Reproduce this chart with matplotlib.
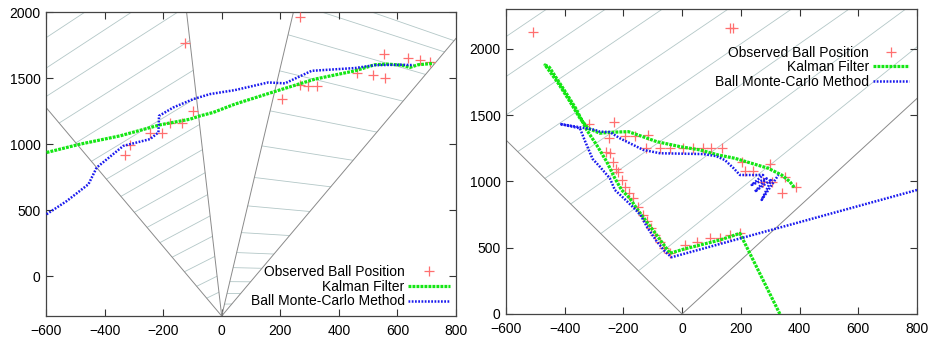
import numpy as np
import matplotlib
matplotlib.use("Agg")
import matplotlib.pyplot as plt
from matplotlib.patches import Polygon
from matplotlib.lines import Line2D

plt.rcParams["font.family"] = ["Liberation Sans", "DejaVu Sans"]
plt.rcParams["font.size"] = 10

# ---------------- left panel (two camera wedges) ----------------
L_OBS_X = [-125, -99, -135, -177, -203, -246, -312, -331, 205, 268, 267, 296,
           327, 461, 517, 559, 555, 636, 678, 712]
L_OBS_Y = [1763, 1252, 1162, 1159, 1082, 1082, 995, 921, 1338, 1960, 1445, 1437,
           1437, 1541, 1520, 1503, 1682, 1650, 1636, 1625]

L_KF_X = [-598, -484, -347, -211, -108, -74, -29, 45, 182, 318, 455, 523, 563,
          615, 643, 671, 723]
L_KF_Y = [937, 1000, 1063, 1146, 1189, 1214, 1240, 1303, 1399, 1492, 1555, 1601,
          1606, 1598, 1581, 1601, 1611]

L_MC_X = [-598, -529, -455, -427, -336, -313, -245, -216, -214, -165, -97, -40,
          45, 159, 216, 307, 455, 523, 615, 655]
L_MC_Y = [470, 570, 697, 823, 987, 1000, 1038, 1089, 1214, 1278, 1341, 1379,
          1409, 1467, 1460, 1555, 1576, 1598, 1601, 1598]

# camera field-of-view rays: apex -> end point
L_APEX = (0, -300)
L_RAY_END_X = [-600, -120, 245, 800]
L_RAY_END_Y = [1278, 2000, 2000, 1800]

# wedge outlines (used only for clipping the row lines)
L_WEDGE_A_X = [0, -600, -600, -120]
L_WEDGE_A_Y = [-300, 1278, 2000, 2000]
L_WEDGE_B_X = [0, 245, 800, 800]
L_WEDGE_B_Y = [-300, 2000, 2000, 1800]

# image-row lines: a point on each line and its slope
L_ROW_A_X = [-600, -600, -600, -555, -498, -445, -394, -344, -298, -255, -211,
             -169, -127, -85, -51]
L_ROW_A_Y = [1805, 1575, 1360, 1160, 1010, 870, 735, 605, 485, 370, 255, 145,
             35, -75, -165]
L_ROW_A_K = [1.46, 1.45, 1.42, 1.40, 1.37, 1.34, 1.30, 1.27, 1.24, 1.20, 1.18,
             1.15, 1.12, 1.10, 1.08]

L_ROW_B_X = [512, 341, 226.6, 197.6, 165.3, 137, 111.6, 88.7, 67.2, 51.1, 39,
             27.7, 18.1, 9.6]
L_ROW_B_Y = [2000, 2000, 1828, 1555, 1252, 987, 748, 533, 331, 180, 66, -40,
             -130, -210]
L_ROW_B_K = [-0.77, -0.72, -0.64, -0.544, -0.44, -0.35, -0.271, -0.20, -0.136,
             -0.088, -0.052, -0.019, 0.009, 0.034]

# ---------------- right panel (one wide camera) ----------------
R_OBS_X = [-507, 163, 174, -317, -231, -250, -195, -161, -115, -122, -75, -41,
           4, 38, 70, 100, 135, -260, -246, -234, -225, -217, -205, -195, -180,
           -166, -150, -132, -120, -105, -92, -75, -60, -41, 10, 50, 95, 129,
           163, 197, 203, 214, 240, 299, 276, 305, 350, 339, 388]
R_OBS_Y = [2124, 2157, 2157, 1430, 1444, 1330, 1340, 1340, 1346, 1249, 1249,
           1249, 1249, 1249, 1249, 1249, 1249, 1225, 1215, 1145, 1095, 1073,
           1010, 960, 910, 872, 810, 747, 700, 650, 596, 545, 500, 458, 520,
           545, 571, 571, 593, 612, 1149, 1077, 1077, 1130, 998, 998, 1035,
           915, 957]

R_KF_X = [382, 367, 339, 293, 237, 180, 123, 61, -7, -87, -144, -183, -246,
          -280, -320, -348, -382, -422, -467, -452, -402, -362, -325, -291,
          -257, -229, -206, -178, -155, -121, -87, -58, -41, 4, 61, 129, 197,
          333]
R_KF_Y = [955, 998, 1048, 1099, 1136, 1174, 1199, 1237, 1262, 1300, 1345, 1375,
          1370, 1363, 1400, 1476, 1601, 1740, 1878, 1860, 1690, 1550, 1388,
          1274, 1149, 1023, 935, 872, 797, 696, 596, 508, 458, 488, 520, 558,
          608, 0]

R_MC_X = [800, -36, -58, -87, -118, -140, -160, -195, -229, -246, -280, -305,
          -330, -348, -416, -300, -280, -246, -212, -132, -75, 72, 117, 146,
          175, 197, 276, 237, 288, 248, 305, 271, 328]
R_MC_Y = [935, 428, 470, 550, 650, 740, 790, 865, 935, 1023, 1110, 1170, 1300,
          1400, 1433, 1390, 1375, 1372, 1325, 1237, 1212, 1206, 1190, 1160,
          1100, 1048, 1048, 973, 1023, 922, 1016, 860, 1048]

R_APEX = (0, 0)
R_RAY_END_X = [-600, 800]
R_RAY_END_Y = [1312, 1625]

R_WEDGE_X = [0, -600, -600, 800, 800]
R_WEDGE_Y = [0, 1312, 2300, 2300, 1625]

R_ROW_X = [-600, -600, -600, -560, -467, -376, -276, -145]
R_ROW_Y = [2091, 1790, 1500, 1224, 1023, 835, 608, 332]
R_ROW_K = [1.50, 1.50, 1.50, 1.50, 1.52, 1.55, 1.63, 1.78]

X_TICKS = [-600, -400, -200, 0, 200, 400, 600, 800]

RED = "#ff6f6f"
GREEN = "#14e614"
BLUE = "#1a1aee"
RAY = "#8a8a8a"
ROW = "#b3c7c7"

KF_DASH = (0.9, 0.35)
MC_DASH = (0.7, 0.6)


def draw_rows(ax, wx, wy, px, py, ks):
    clip = Polygon(np.column_stack([wx, wy]), closed=True, facecolor="none",
                   edgecolor="none", transform=ax.transData)
    ax.add_patch(clip)
    for x0, y0, k in zip(px, py, ks):
        xs = np.array([x0 - 4000, x0 + 4000])
        ln, = ax.plot(xs, y0 + k * (xs - x0), color=ROW, lw=0.6, zorder=1)
        ln.set_clip_path(clip)


def draw_rays(ax, apex, ex, ey):
    for x1, y1 in zip(ex, ey):
        ax.plot([apex[0], x1], [apex[1], y1], color=RAY, lw=0.7, zorder=2)


def draw_tracks(ax, ox, oy, kx, ky, mx, my):
    ax.plot(ox, oy, ls="none", marker="+", ms=7, mew=0.9, color=RED, zorder=3)
    ax.plot(kx, ky, color=GREEN, lw=2.3, dashes=KF_DASH, dash_capstyle="butt",
            zorder=4)
    ax.plot(mx, my, color=BLUE, lw=1.8, dashes=MC_DASH, dash_capstyle="butt",
            zorder=5)


def style(ax, ylim, yticks):
    ax.set_xlim(-600, 800)
    ax.set_ylim(*ylim)
    ax.set_xticks(X_TICKS)
    ax.set_yticks(yticks)
    ax.tick_params(direction="in", top=True, right=True, length=5, width=0.8,
                   color="#333333", labelsize=10)
    ax.tick_params(axis="x", pad=6)
    ax.tick_params(axis="y", pad=4)
    for s in ax.spines.values():
        s.set_color("#444444")
        s.set_linewidth(0.9)


def add_legend(ax, loc, anchor, hlen):
    handles = [
        Line2D([], [], ls="none", marker="+", ms=7, mew=0.9, color=RED),
        Line2D([], [], color=GREEN, lw=2.3, dashes=KF_DASH, dash_capstyle="butt"),
        Line2D([], [], color=BLUE, lw=1.8, dashes=MC_DASH, dash_capstyle="butt"),
    ]
    labels = ["Observed Ball Position", "Kalman Filter", "Ball Monte-Carlo Method"]
    ax.legend(handles, labels, loc=loc, bbox_to_anchor=anchor, frameon=False,
              markerfirst=False, handlelength=hlen, handletextpad=0.25,
              labelspacing=0.05, borderpad=0, borderaxespad=0, fontsize=10)


fig = plt.figure(figsize=(9.33, 3.4), dpi=100, facecolor="white")
ax1 = fig.add_axes([0.0493, 0.0706, 0.4394, 0.8941])
ax2 = fig.add_axes([0.5423, 0.0765, 0.4405, 0.8971])

draw_rows(ax1, L_WEDGE_A_X, L_WEDGE_A_Y, L_ROW_A_X, L_ROW_A_Y, L_ROW_A_K)
draw_rows(ax1, L_WEDGE_B_X, L_WEDGE_B_Y, L_ROW_B_X, L_ROW_B_Y, L_ROW_B_K)
draw_rays(ax1, L_APEX, L_RAY_END_X, L_RAY_END_Y)
draw_tracks(ax1, L_OBS_X, L_OBS_Y, L_KF_X, L_KF_Y, L_MC_X, L_MC_Y)
style(ax1, (-300, 2000), [0, 500, 1000, 1500, 2000])
add_legend(ax1, "lower right", (0.985, 0.025), 3.0)

draw_rows(ax2, R_WEDGE_X, R_WEDGE_Y, R_ROW_X, R_ROW_Y, R_ROW_K)
draw_rays(ax2, R_APEX, R_RAY_END_X, R_RAY_END_Y)
draw_tracks(ax2, R_OBS_X, R_OBS_Y, R_KF_X, R_KF_Y, R_MC_X, R_MC_Y)
style(ax2, (0, 2300), [0, 500, 1000, 1500, 2000])
add_legend(ax2, "upper right", (0.98, 0.88), 2.6)

fig.savefig("out.png", dpi=100, facecolor="white")
